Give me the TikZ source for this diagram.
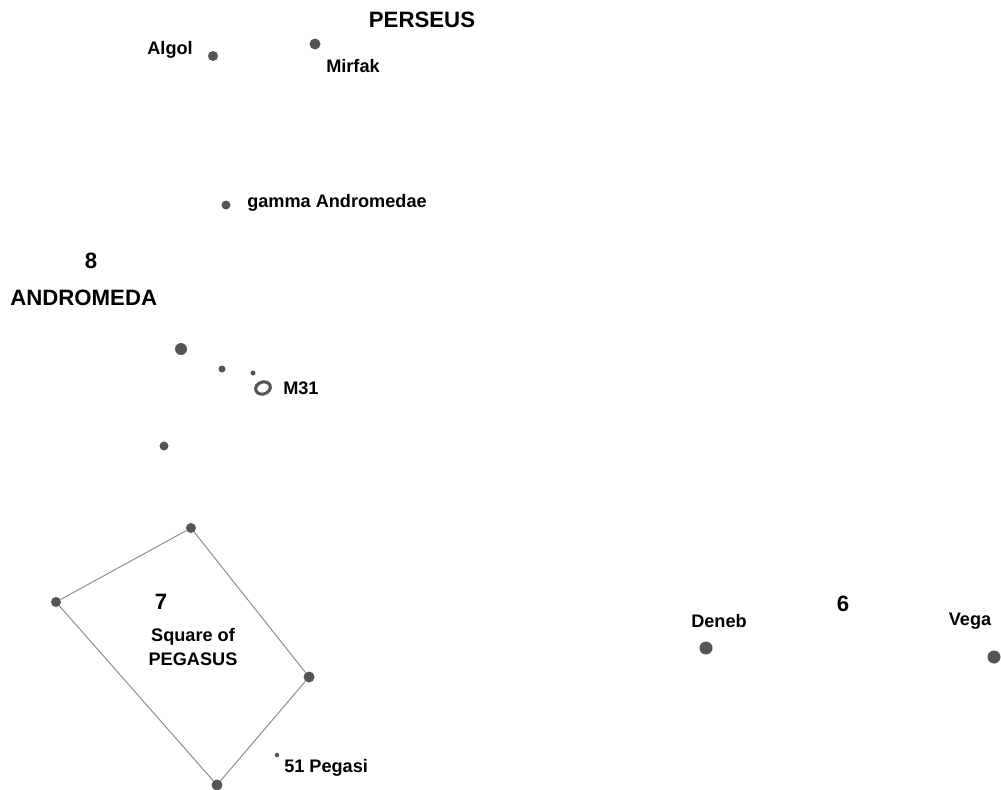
\documentclass[tikz,border=0pt]{standalone}
\usepackage{fontspec}
\setmainfont{Liberation Sans}
\definecolor{stargray}{HTML}{555555}
\definecolor{linegray}{HTML}{8C8C8C}
\begin{document}
\begin{tikzpicture}[x=0.025cm,y=-0.025cm,
    star/.style={circle,fill=stargray,inner sep=0pt,minimum size=#1*0.025cm},
    star/.default=10,
    lbl/.style={font=\fontsize{12.9}{15}\selectfont\bfseries,inner sep=0pt},
    title/.style={font=\fontsize{15.8}{18}\selectfont\bfseries,inner sep=0pt},
    edge/.style={draw=linegray,line width=0.7pt}]
    \useasboundingbox (0,0) rectangle (1001,790);
    \clip (0,0) rectangle (1001,790);
    % Perseus
    \node[title] (perseus) at (422,20) {PERSEUS};
    \node[star] (algol) at (213,56) {};
    \node[lbl,anchor=east] (algolL) at (193,50) {Algol};
    \node[star=11] (mirfak) at (315,44) {};
    \node[lbl,anchor=west] (mirfakL) at (326,66) {Mirfak};
    % Andromeda
    \node[star=9] (gamma) at (226,205) {};
    \node[lbl,anchor=west] (gammaL) at (247,203) {gamma Andromedae};
    \node[title] (eight) at (91,261) {8};
    \node[title,anchor=west] (andromeda) at (10,298) {ANDROMEDA};
    \node[star=12] (beta) at (181,349) {};
    \node[star=7] (mu) at (222,369) {};
    \node[star=5] (nu) at (253,373) {};
    \draw[stargray,line width=2.2pt,rotate around={20:(263,388)}] (263,388) ellipse (7.5 and 6);
    \node[lbl,anchor=west] (m31) at (283,388) {M31};
    \node[star=9] (alpheratz) at (164,446) {};
    % Pegasus
    \node[star] (pegT) at (191,528) {};
    \node[star] (pegL) at (56,602) {};
    \node[star=11] (pegR) at (309,677) {};
    \node[star=11] (pegB) at (217,785) {};
    \draw[edge] (pegT) -- (pegL) -- (pegB) -- (pegR) -- (pegT);
    \node[title] (seven) at (161,602) {7};
    \node[lbl,align=center] (square) at (193,647) {Square of\\[2pt]PEGASUS};
    \node[star=4.5] (peg51) at (277,755) {};
    \node[lbl,anchor=west] (peg51L) at (284,768) {51 Pegasi};
    % Summer triangle
    \node[lbl] (denebL) at (719,621) {Deneb};
    \node[star=13] (deneb) at (706,648) {};
    \node[title] (six) at (843,604) {6};
    \node[lbl] (vegaL) at (970,621) {Vega};
    \node[star=13] (vega) at (994,657) {};
\end{tikzpicture}
\end{document}
